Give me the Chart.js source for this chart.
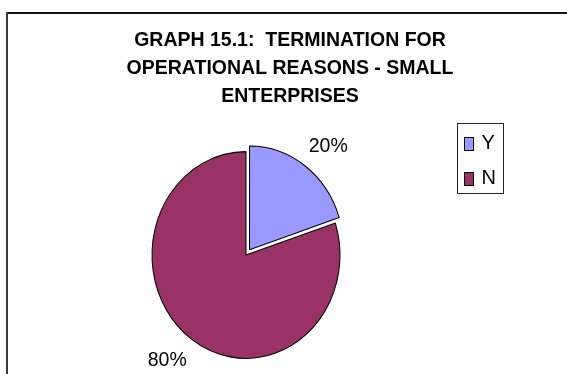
<!DOCTYPE html>
<html>
<head>
<meta charset="utf-8">
<script src="https://cdn.jsdelivr.net/npm/chart.js@4/dist/chart.umd.min.js"></script>
<style>
  html, body { margin: 0; padding: 0; background: #fff; }
  #wrap { position: relative; width: 567px; height: 374px; }
</style>
</head>
<body>
<div id="wrap"><canvas id="chart" width="567" height="374"></canvas></div>
<script>
  // chart data
  var titleLines = ["GRAPH 15.1:  TERMINATION FOR", "OPERATIONAL REASONS - SMALL", "ENTERPRISES"];
  var categories = ["Y", "N"];
  var values = [20, 80];
  var sliceColors = ["#9999FF", "#993366"];
  var sliceOffsets = [24, 0];

  var FONT = "'Liberation Sans', Arial, sans-serif";
  var SY = 1.1; // Excel plot area is a bit taller than wide

  var total = values.reduce(function (a, b) { return a + b; }, 0);

  var decorPlugin = {
    id: "decor",
    beforeDraw: function (chart) {
      var ctx = chart.ctx;
      ctx.save();
      // outer frame (top + left visible)
      ctx.fillStyle = "#111";
      ctx.fillRect(6, 12, 561, 2);
      ctx.fillStyle = "#3a3a3a";
      ctx.fillRect(6, 12, 2, 362);

      // title
      ctx.fillStyle = "#000";
      ctx.font = "bold 19.5px " + FONT;
      ctx.textAlign = "center";
      ctx.textBaseline = "alphabetic";
      titleLines.forEach(function (line, i) {
        ctx.fillText(line, 290, 45.5 + i * 28);
      });

      // legend
      ctx.lineWidth = 1;
      ctx.strokeStyle = "#222";
      ctx.strokeRect(457.5, 123.5, 46, 70);
      ctx.font = "20px " + FONT;
      ctx.textAlign = "left";
      categories.forEach(function (cat, i) {
        var top = 137 + i * 35;
        ctx.fillStyle = sliceColors[i];
        ctx.fillRect(464, top, 9, 13);
        ctx.strokeStyle = "#000";
        ctx.strokeRect(464.5, top + 0.5, 9, 13);
        ctx.fillStyle = "#000";
        ctx.fillText(cat, 481.5, top + 11.5);
      });
      ctx.restore();
    },
    beforeDatasetsDraw: function (chart) {
      var a = chart.chartArea;
      var cx = (a.left + a.right) / 2;
      var cy = (a.top + a.bottom) / 2;
      var ctx = chart.ctx;
      ctx.save();
      ctx.translate(cx, cy);
      ctx.scale(1, SY);
      ctx.translate(-cx, -cy);
    },
    afterDatasetsDraw: function (chart) {
      var ctx = chart.ctx;
      ctx.restore();

      // percentage labels outside each slice
      var meta = chart.getDatasetMeta(0);
      ctx.save();
      ctx.font = "19.5px " + FONT;
      ctx.fillStyle = "#000";
      ctx.textAlign = "center";
      ctx.textBaseline = "alphabetic";
      meta.data.forEach(function (arc, i) {
        var mid = (arc.startAngle + arc.endAngle) / 2;
        var r = arc.outerRadius + sliceOffsets[i] / 4;
        var ex = arc.x + Math.cos(mid) * r;
        var ey = arc.y + Math.sin(mid) * r * SY;
        var text = Math.round(values[i] / total * 100) + "%";
        var w = ctx.measureText(text).width;
        var capH = 13.4;
        var lx = ex + Math.sign(Math.cos(mid)) * (w / 2 + 4);
        var ly = ey + Math.sign(Math.sin(mid)) * (capH / 2 + 14);
        ctx.fillText(text, lx, ly + capH / 2);
      });
      ctx.restore();
    }
  };

  new Chart(document.getElementById("chart"), {
    type: "pie",
    data: {
      labels: categories,
      datasets: [{
        data: values,
        backgroundColor: sliceColors,
        borderColor: "#000",
        borderWidth: 1,
        offset: sliceOffsets,
        hoverOffset: 0
      }]
    },
    options: {
      responsive: false,
      animation: false,
      events: [],
      radius: 94,
      layout: { padding: { left: 0, right: 75, top: 136, bottom: 0 } },
      plugins: {
        legend: { display: false },
        title: { display: false },
        tooltip: { enabled: false }
      }
    },
    plugins: [decorPlugin]
  });
</script>
</body>
</html>
